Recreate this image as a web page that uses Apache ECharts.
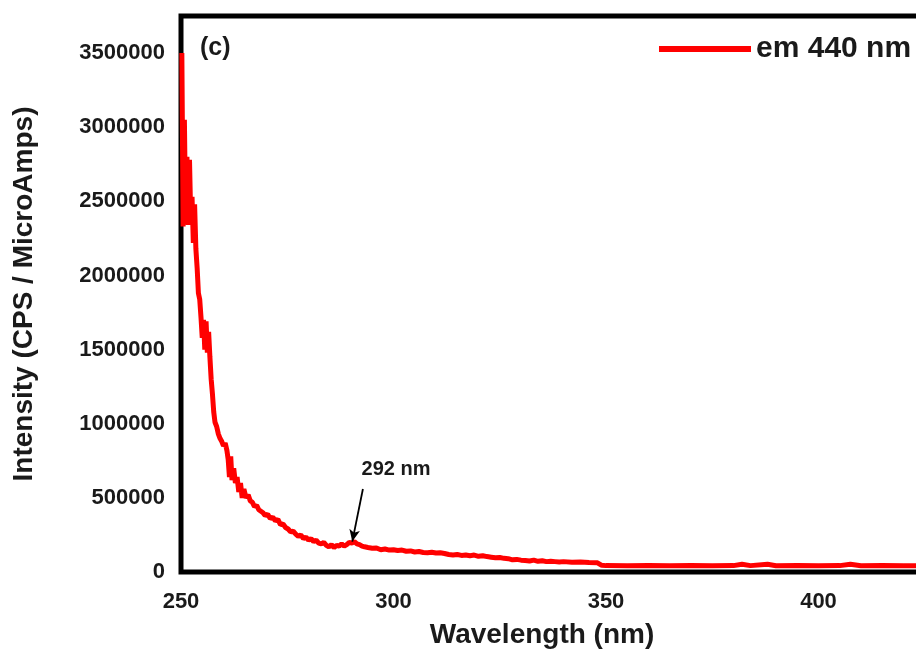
<!DOCTYPE html>
<html>
<head>
<meta charset="utf-8">
<script src="https://cdn.jsdelivr.net/npm/echarts@6/dist/echarts.min.js"></script>
<style>
html,body{margin:0;padding:0;background:#fff;}
#chart{width:916px;height:653px;}
</style>
</head>
<body>
<div id="chart"></div>
<script>
const wavelengths = [250.2,250.5,250.8,251.1,251.4,251.7,252.0,252.3,252.6,252.9,253.2,253.5,253.8,254.1,254.4,254.7,255.0,255.3,255.6,255.9,256.2,256.5,256.8,257.1,257.4,257.7,258.0,258.4,258.8,259.2,259.6,260.0,260.4,260.8,261.1,261.4,261.7,262.0,262.4,262.8,263.2,263.6,264.0,264.4,264.8,265.3,265.8,266.3,266.8,267.3,267.8,268.3,268.8,269.3,269.8,270.4,271.0,271.6,272.2,272.8,273.4,274.0,274.6,275.2,275.8,276.4,277.0,277.6,278.2,278.8,279.4,280.0,280.6,281.2,281.8,282.4,283.0,283.6,284.2,284.8,285.4,286.0,286.6,287.2,287.8,288.4,289.0,289.6,290.2,290.8,291.4,292.0,292.6,293.2,294,295,296,297,298,299,300,301,302,303,304,305,306,307,308,309,310,311,312,313,314,315,316,317,318,319,320,321,322,323,324,325,326,327,328,329,330,331,332,333,334,335,336,337,338,339,340,342,344,346,348,349,350,355,360,365,370,375,380,382,384,388,390,395,400,405,407.5,410,415,420,425,430,435,440,445,450];
const intensities = [3500000,2330000,3050000,2350000,2800000,2340000,2780000,2380000,2530000,2220000,2480000,2180000,2050000,1880000,1840000,1720000,1580000,1700000,1500000,1690000,1480000,1620000,1450000,1300000,1200000,1080000,1010000,980000,930000,900000,880000,850000,870000,820000,760000,640000,780000,620000,700000,600000,640000,540000,600000,500000,560000,500000,520000,480000,470000,440000,450000,420000,410000,400000,380000,390000,360000,370000,345000,355000,320000,325000,300000,290000,270000,275000,255000,240000,250000,225000,235000,215000,225000,205000,215000,195000,190000,200000,180000,170000,185000,165000,180000,175000,190000,175000,185000,200000,195000,205000,190000,185000,175000,170000,165000,160000,162000,150000,155000,148000,150000,145000,148000,140000,142000,135000,138000,132000,130000,133000,128000,130000,125000,118000,115000,118000,112000,115000,110000,114000,106000,110000,104000,100000,96000,98000,92000,90000,82000,85000,80000,78000,74000,80000,72000,76000,70000,72000,70000,68000,70000,66000,68000,64000,62000,45000,43000,42000,44000,42000,43000,42000,43000,52000,43000,52000,42000,43000,42000,43000,52000,42000,43000,42000,41000,42000,41000,42000,41000,41000];
const xTicks = [250, 300, 350, 400, 450];
const yTicks = [0, 500000, 1000000, 1500000, 2000000, 2500000, 3000000, 3500000];
const seriesName = 'em 440 nm';
const panelLabel = '(c)';
const annotationText = '292 nm';
const arrowFrom = [292.8, 560000];
const arrowTo = [290.3, 205000];
const annotationAt = [300.6, 690000];

const chart = echarts.init(document.getElementById('chart'));
const txt = '#1a1a1a';
const font = '"Liberation Sans", Arial, sans-serif';
chart.setOption({
  animation: false,
  backgroundColor: '#fff',
  grid: {left: 181, top: 16, right: -115, bottom: 81, show: true, borderColor: '#000', borderWidth: 5,
    backgroundColor: 'transparent', containLabel: false, outerBoundsMode: 'none'},
  legend: {
    left: 654, top: 29, icon: 'rect', itemWidth: 92, itemHeight: 6,
    textStyle: {fontSize: 30, fontWeight: 'bold', color: txt, fontFamily: font},
    data: [seriesName]
  },
  xAxis: {
    type: 'value', min: 250, max: 450, interval: 50,
    axisLine: {show: false}, axisTick: {show: false}, splitLine: {show: false},
    axisLabel: {fontSize: 22, fontWeight: 'bold', color: txt, fontFamily: font, margin: 19,
      formatter: v => xTicks.includes(v) ? String(v) : ''}
  },
  yAxis: {
    type: 'value', min: 0, max: 3750000, interval: 500000,
    name: 'Intensity (CPS / MicroAmps)', nameLocation: 'middle', nameGap: 143,
    nameTextStyle: {fontSize: 28, fontWeight: 'bold', color: txt, fontFamily: font},
    axisLine: {show: false}, axisTick: {show: false}, splitLine: {show: false},
    axisLabel: {fontSize: 22, fontWeight: 'bold', color: txt, fontFamily: font, margin: 16,
      formatter: v => yTicks.includes(v) ? String(v) : ''}
  },
  graphic: [
    {type: 'text', x: 200, y: 36, style: {text: panelLabel, font: 'bold 25px ' + font, fill: txt}},
    {type: 'text', x: 542, y: 621, style: {text: 'Wavelength (nm)', font: 'bold 28px ' + font, fill: txt, textAlign: 'center'}}
  ],
  series: [{
    name: seriesName, type: 'line', showSymbol: false, symbol: 'none',
    lineStyle: {color: '#ff0000', width: 5}, itemStyle: {color: '#ff0000'},
    data: wavelengths.map((w, i) => [w, intensities[i]]),
    markLine: {
      silent: true, animation: false,
      symbol: ['none', 'arrow'], symbolSize: [8, 12],
      lineStyle: {color: '#000', width: 1.8, type: 'solid'},
      label: {show: false},
      data: [[{coord: arrowFrom}, {coord: arrowTo}]]
    },
    markPoint: {
      silent: true, symbol: 'circle', symbolSize: 0,
      label: {show: true, formatter: annotationText, fontSize: 20, fontWeight: 'bold', color: txt, fontFamily: font},
      data: [{coord: annotationAt}]
    }
  }]
});
</script>
</body>
</html>
